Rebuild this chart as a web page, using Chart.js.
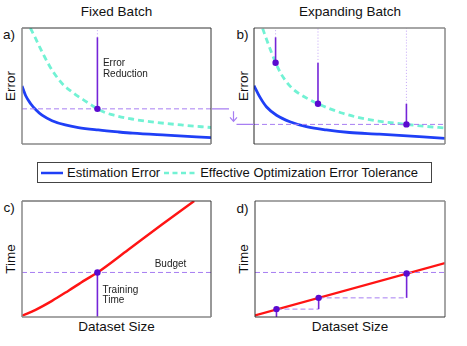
<!DOCTYPE html>
<html lang="en">
<head>
<meta charset="UTF-8">
<title>Fixed vs Expanding Batch</title>
<script src="https://cdn.jsdelivr.net/npm/chart.js"></script>
<style>
  body { margin: 0; background: #fff; font-family: "Liberation Sans", Arial, sans-serif; color: #111; }
  #wrap { position: relative; width: 467px; height: 346px; overflow: hidden; }
  canvas { position: absolute; }
  .lbl { position: absolute; white-space: nowrap; transform: translate(-50%, -50%); font-size: 13.5px; line-height: 1; }
  .rot { transform: translate(-50%, -50%) rotate(-90deg); }
  #legend {
    position: absolute; left: 37px; top: 162px; width: 393px; height: 19px;
    border: 1px solid #444; display: flex; align-items: center; font-size: 13px; white-space: nowrap;
  }
  #legend svg { display: block; }
</style>
</head>
<body>
<div id="wrap">
  <div class="lbl" style="left:116.5px; top:12px">Fixed Batch</div>
  <div class="lbl" style="left:350px; top:12px">Expanding Batch</div>
  <div class="lbl" style="left:9px; top:35px">a)</div>
  <div class="lbl" style="left:242.5px; top:35px">b)</div>
  <div class="lbl" style="left:9px; top:208px">c)</div>
  <div class="lbl" style="left:242.5px; top:209px">d)</div>
  <div class="lbl rot" style="left:11px; top:86px">Error</div>
  <div class="lbl rot" style="left:243.5px; top:86px">Error</div>
  <div class="lbl rot" style="left:11px; top:258.5px">Time</div>
  <div class="lbl rot" style="left:243.5px; top:258.5px">Time</div>
  <div class="lbl" style="left:116.5px; top:327px">Dataset Size</div>
  <div class="lbl" style="left:350px; top:327px">Dataset Size</div>

  <div id="legend">
    <svg width="26" height="6" style="margin-left:3px"><line x1="0" y1="3" x2="22" y2="3" stroke="#1f3ff6" stroke-width="2.5"/></svg>
    <span>Estimation Error</span>
    <svg width="36" height="6" style="margin-left:4px"><line x1="0" y1="3" x2="32" y2="3" stroke="#72f2d4" stroke-width="2.5" stroke-dasharray="5,3.5"/></svg>
    <span>Effective Optimization Error Tolerance</span>
  </div>

  <canvas id="chartA" width="197" height="124" style="left:18px; top:24px"></canvas>
  <canvas id="chartB" width="244" height="124" style="left:205px; top:24px"></canvas>
  <canvas id="chartC" width="197" height="124" style="left:18px; top:197px"></canvas>
  <canvas id="chartD" width="198" height="124" style="left:251px; top:197px"></canvas>
</div>

<script>
// ---- error panels (a: fixed batch, b: expanding batch), arbitrary units 0..10
const estXA   = [0, 0.19, 0.46, 0.72, 1.06, 1.59, 2.29, 2.98, 4.03, 5.08, 5.86, 7.64, 10];
const estErrA = [5.0, 4.18, 3.47, 2.97, 2.48, 2.01, 1.64, 1.42, 1.21, 1.04, 0.93, 0.76, 0.55];
const tolXA   = [0.44, 0.72, 0.95, 1.2, 1.45, 1.7, 1.95, 2.25, 2.6, 2.95, 3.35, 3.7, 3.99, 4.45, 4.95, 5.7, 6.75, 8.5, 10];
const tolErrA = [10, 9.1, 8.3, 7.5, 6.75, 6.1, 5.55, 5.0, 4.55, 4.12, 3.7, 3.33, 3.03, 2.68, 2.45, 2.18, 1.93, 1.63, 1.42];

const estXB   = [0, 0.31, 0.66, 1.18, 1.88, 2.74, 3.79, 5.0, 6.56, 10];
const estErrB = [5.03, 4.04, 3.19, 2.48, 1.92, 1.5, 1.21, 0.99, 0.85, 0.48];
const tolXB   = [0.45, 0.66, 0.9, 1.13, 1.4, 1.7, 2.0, 2.4, 2.9, 3.35, 3.95, 4.65, 5.5, 6.5, 7.98, 9.0, 10];
const tolErrB = [9.97, 9.0, 7.95, 7.01, 6.1, 5.35, 4.8, 4.3, 3.83, 3.47, 3.05, 2.65, 2.27, 1.98, 1.69, 1.52, 1.38];

// stopping points and error-reduction steps
const stopXA   = [3.99];
const stopErrA = [3.03];
const stepTopA = [9.2];
const stopXB   = [1.13, 3.35, 7.98];
const stopErrB = [7.01, 3.47, 1.69];
const stepTopB = [9.2, 7.01, 3.47];

// ---- time panels (c, d)
const sizeXC = [0, 0.72, 1.59, 2.46, 3.33, 3.99, 5.62, 7.37, 9.11];
const timeC  = [0.11, 0.62, 1.39, 2.27, 3.18, 3.83, 5.8, 7.93, 10];
const sizeXD = [0, 10];
const timeD  = [0.14, 4.65];
const budget = 3.84;
const stopXC = [3.99];
const stopTimeC = [3.83];
const stopXD = [1.13, 3.35, 7.98];
const stopTimeD = [0.68, 1.65, 3.75];
const stepBaseD = [0, 0.68, 1.65];

const BLUE = '#1f3ff6', TEAL = '#72f2d4', RED = '#ff1414';
const PURPLE = '#7424d8', DOT = '#5a0ad0', LIGHT = '#a77ef2', FAINT = '#c4a6f6';

const pts = (xs, ys) => xs.map((x, i) => ({ x, y: ys[i] }));
const line = (xs, ys, color, width, dash) => ({
  data: pts(xs, ys), borderColor: color, borderWidth: width, borderDash: dash || [],
  pointRadius: 0, cubicInterpolationMode: 'monotone', fill: false
});
const dots = (xs, ys) => ({
  data: pts(xs, ys), showLine: false, pointRadius: 3.2, pointBackgroundColor: DOT, pointBorderWidth: 0
});
// vertical segment for every x, from lo[i] to hi[i]
const verticals = (xs, lo, hi, color, width, dash) =>
  xs.map((x, i) => line([x, x], [lo[i], hi[i]], color, width, dash));

// box around plot area, colours [top, right, bottom, left]
const framePlugin = {
  id: 'frame',
  afterDraw(chart, args, opts) {
    const { ctx, chartArea: a } = chart;
    const c = opts.colors;
    const side = (x1, y1, x2, y2, col, w) => {
      ctx.beginPath(); ctx.strokeStyle = col; ctx.lineWidth = w;
      ctx.moveTo(x1, y1); ctx.lineTo(x2, y2); ctx.stroke();
    };
    ctx.save();
    side(a.left, a.top, a.right, a.top, c[0], c[0] === '#888' ? 1.5 : 1);
    side(a.right, a.top, a.right, a.bottom, c[1], c[1] === '#888' ? 1.5 : 1);
    side(a.left, a.bottom, a.right, a.bottom, c[2], c[2] === '#888' ? 1.5 : 1);
    side(a.left, a.top, a.left, a.bottom, c[3], c[3] === '#888' ? 1.5 : 1);
    ctx.restore();
  }
};

// small annotations placed in data coordinates
const notesPlugin = {
  id: 'notes',
  afterDatasetsDraw(chart, args, opts) {
    const { ctx, scales } = chart;
    ctx.save();
    ctx.font = '10px "Liberation Sans", Arial, sans-serif';
    ctx.fillStyle = '#222';
    ctx.textBaseline = 'middle';
    (opts.items || []).forEach(n => {
      ctx.fillText(n.text, scales.x.getPixelForValue(n.x), scales.y.getPixelForValue(n.y));
    });
    ctx.restore();
  }
};

// arrow that carries panel a's tolerance level over to panel b
const carryPlugin = {
  id: 'carry',
  afterDraw(chart, args, opts) {
    if (!opts.on) return;
    const { ctx, chartArea: a, scales } = chart;
    const yFrom = scales.y.getPixelForValue(opts.from);
    const yTo = scales.y.getPixelForValue(opts.to);
    const L = a.left;
    ctx.save();
    ctx.strokeStyle = LIGHT; ctx.lineWidth = 1.2;
    ctx.beginPath();
    ctx.moveTo(L - 42, yFrom); ctx.lineTo(L - 25, yFrom);
    ctx.moveTo(L - 20.5, yFrom + 2.5); ctx.lineTo(L - 20.5, yTo - 3);
    ctx.moveTo(L - 24, yTo - 7); ctx.lineTo(L - 20.5, yTo - 3); ctx.lineTo(L - 17, yTo - 7);
    ctx.moveTo(L - 17.5, yTo); ctx.lineTo(L, yTo);
    ctx.stroke();
    ctx.restore();
  }
};

function makeChart(id, datasets, pad, frameColors, notes, carry) {
  return new Chart(document.getElementById(id), {
    type: 'line',
    data: { datasets },
    options: {
      responsive: false,
      animation: false,
      layout: { padding: pad },
      scales: {
        x: { type: 'linear', min: 0, max: 10, display: false },
        y: { type: 'linear', min: 0, max: 10, display: false }
      },
      plugins: {
        legend: { display: false },
        tooltip: { enabled: false },
        frame: { colors: frameColors },
        notes: { items: notes },
        carry: carry || { on: false }
      }
    },
    plugins: [framePlugin, notesPlugin, carryPlugin]
  });
}

// a) fixed batch
makeChart('chartA', [
  dots(stopXA, stopErrA),
  ...verticals(stopXA, stopErrA, stepTopA, PURPLE, 1.6),
  ...verticals(stopXA, stepTopA, stopXA.map(() => 10), FAINT, 1, [1, 2]),
  line([0, 10], [stopErrA[0], stopErrA[0]], LIGHT, 1, [5, 3]),
  line(estXA, estErrA, BLUE, 2.8),
  line(tolXA, tolErrA, TEAL, 2.8, [6, 4])
], { left: 3, right: 3, top: 3, bottom: 3 }, ['#333', '#333', '#888', '#888'], [
  { x: 4.28, y: 6.95, text: 'Error' },
  { x: 4.28, y: 6.02, text: 'Reduction' }
]);

// b) expanding batch
makeChart('chartB', [
  dots(stopXB, stopErrB),
  ...verticals(stopXB, stopErrB, stepTopB, PURPLE, 1.6),
  ...verticals(stopXB, stepTopB, stopXB.map(() => 10), FAINT, 1, [1, 2]),
  line([0, 10], [stopErrB[2], stopErrB[2]], LIGHT, 1, [5, 3]),
  line(estXB, estErrB, BLUE, 2.8),
  line(tolXB, tolErrB, TEAL, 2.8, [6, 4])
], { left: 49, right: 3, top: 3, bottom: 3 }, ['#888', '#888', '#888', '#222'], [],
  { on: true, from: stopErrA[0], to: stopErrB[2] });

// c) training time, fixed batch
makeChart('chartC', [
  dots(stopXC, stopTimeC),
  ...verticals(stopXC, [0], stopTimeC, PURPLE, 1.6),
  line([0, 10], [budget, budget], LIGHT, 1, [5, 3]),
  line(sizeXC, timeC, RED, 2.4)
], { left: 3, right: 3, top: 3, bottom: 3.7 }, ['#333', '#333', '#888', '#888'], [
  { x: 7.02, y: 4.54, text: 'Budget' },
  { x: 4.26, y: 2.3, text: 'Training' },
  { x: 4.26, y: 1.45, text: 'Time' }
]);

// d) training time, expanding batch
makeChart('chartD', [
  dots(stopXD, stopTimeD),
  ...verticals(stopXD, stepBaseD, stopTimeD, PURPLE, 1.6),
  ...stopXD.slice(1).map((x, i) => line([stopXD[i], x], [stopTimeD[i], stopTimeD[i]], LIGHT, 1, [5, 3])),
  line([0, 10], [budget, budget], LIGHT, 1, [5, 3]),
  line(sizeXD, timeD, RED, 2.4)
], { left: 3, right: 3, top: 3, bottom: 3.7 }, ['#888', '#888', '#333', '#333'], []);
</script>
</body>
</html>
